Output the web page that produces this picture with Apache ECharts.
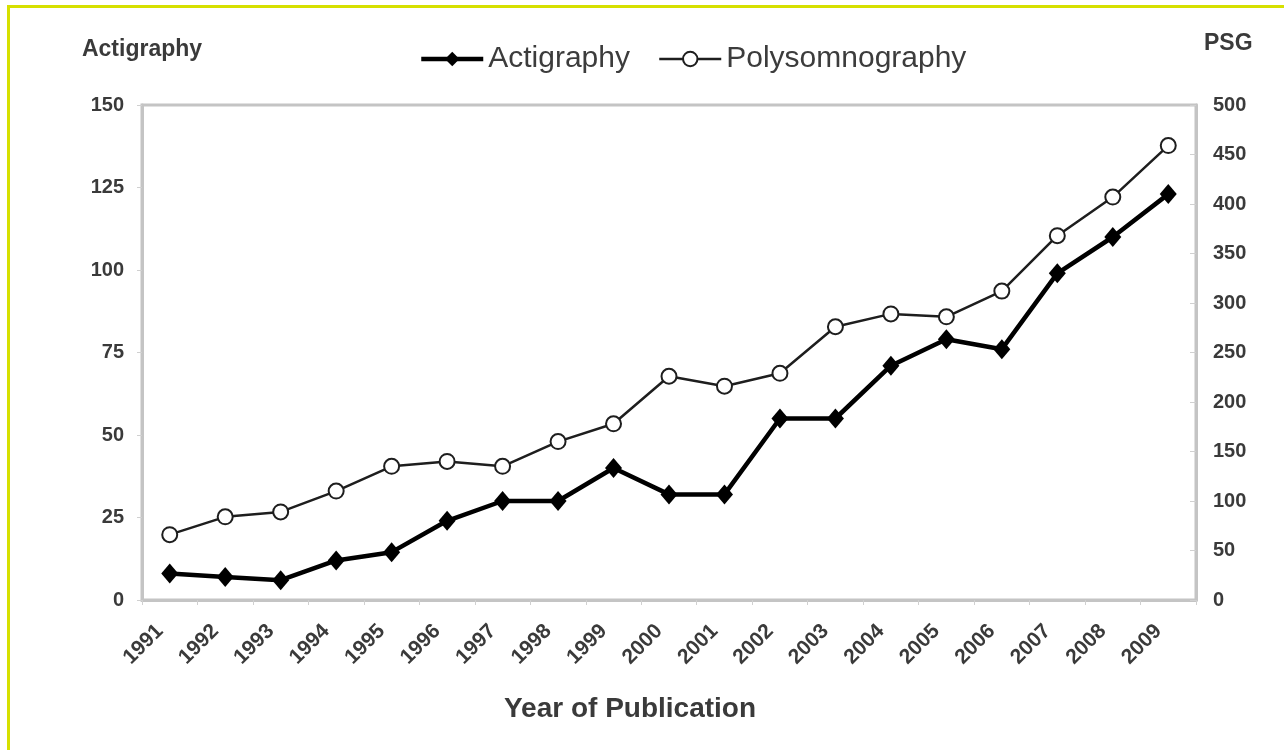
<!DOCTYPE html>
<html>
<head>
<meta charset="utf-8">
<script src="https://cdn.jsdelivr.net/npm/echarts@6/dist/echarts.min.js"></script>
<style>
html,body{margin:0;padding:0;background:#fff;}
#frame{position:absolute;left:7px;top:5px;width:1277px;height:745px;border-top:3px solid #d6e000;border-left:3px solid #d6e000;box-sizing:border-box;}
#chart{position:absolute;left:0;top:0;width:1284px;height:750px;}
</style>
</head>
<body>
<div id="frame"></div>
<div id="chart"></div>
<script>
const years = ['1991','1992','1993','1994','1995','1996','1997','1998','1999','2000','2001','2002','2003','2004','2005','2006','2007','2008','2009'];
const actigraphy = [8, 7, 6, 12, 14.5, 24, 30, 30, 40, 32, 32, 55, 55, 71, 79, 76, 99, 110, 123];
const polysomnography = [66, 84, 89, 110, 135, 140, 135, 160, 178, 226, 216, 229, 276, 289, 286, 312, 368, 407, 459];
const leftTicks = [0, 25, 50, 75, 100, 125, 150];
const rightTicks = [0, 50, 100, 150, 200, 250, 300, 350, 400, 450, 500];

const chart = echarts.init(document.getElementById('chart'), null, {renderer: 'canvas'});
const lblColor = '#3a3a3a';
const font = 'Liberation Sans, Arial, sans-serif';
chart.setOption({
  backgroundColor: 'transparent',
  animation: false,
  textStyle: {fontFamily: font},
  legend: {
    left: 414, top: 39,
    itemWidth: 62, itemHeight: 18, itemGap: 28,
    textStyle: {fontSize: 30, color: '#3c3c3c', fontFamily: font},
    data: [
      {name: 'Actigraphy', lineStyle: {width: 4.5, color: '#000'}},
      {name: 'Polysomnography', lineStyle: {width: 2.5, color: '#1e1e1e'}}
    ]
  },
  grid: {left: 142, right: 88, top: 105, bottom: 150, show: true, borderColor: '#c4c4c4', borderWidth: 3},
  xAxis: {
    type: 'category', data: years, boundaryGap: true,
    name: 'Year of Publication', nameLocation: 'middle', nameGap: 95,
    nameTextStyle: {fontSize: 28, fontWeight: 'bold', color: lblColor, padding: [0, 78, 0, 0]},
    axisLine: {lineStyle: {color: '#c4c4c4', width: 3}},
    axisTick: {show: true, length: 5, lineStyle: {color: '#d0d0d0', width: 1}},
    axisLabel: {rotate: 45, fontSize: 21, fontWeight: 'bold', color: lblColor, margin: 18, padding: [0, 14, 0, 0], interval: 0}
  },
  yAxis: [
    {
      type: 'value', min: leftTicks[0], max: leftTicks[leftTicks.length - 1], interval: 25,
      name: 'Actigraphy', nameLocation: 'end', nameGap: 44,
      nameTextStyle: {fontSize: 23, fontWeight: 'bold', color: lblColor, align: 'center'},
      axisLine: {show: true, lineStyle: {color: '#c4c4c4', width: 3}},
      axisTick: {show: true, length: 5, lineStyle: {color: '#d0d0d0'}},
      splitLine: {show: false},
      axisLabel: {fontSize: 20, fontWeight: 'bold', color: lblColor, margin: 18}
    },
    {
      type: 'value', min: rightTicks[0], max: rightTicks[rightTicks.length - 1], interval: 50,
      name: 'PSG', nameLocation: 'end', nameGap: 50,
      nameTextStyle: {fontSize: 23, fontWeight: 'bold', color: lblColor, align: 'left', padding: [0, 0, 0, 8]},
      axisLine: {show: true, lineStyle: {color: '#c4c4c4', width: 3}},
      axisTick: {show: true, inside: true, length: 6, lineStyle: {color: '#d0d0d0'}},
      splitLine: {show: false},
      axisLabel: {fontSize: 20, fontWeight: 'bold', color: lblColor, margin: 17}
    }
  ],
  series: [
    {
      name: 'Polysomnography', type: 'line', yAxisIndex: 1, data: polysomnography,
      symbol: 'circle', symbolSize: 15,
      lineStyle: {color: '#1e1e1e', width: 2.5},
      itemStyle: {color: '#ffffff', borderColor: '#1e1e1e', borderWidth: 2},
      z: 2
    },
    {
      name: 'Actigraphy', type: 'line', yAxisIndex: 0, data: actigraphy,
      symbol: 'diamond', symbolSize: [17, 20],
      lineStyle: {color: '#000000', width: 4.5},
      itemStyle: {color: '#000000', borderColor: '#000000', borderWidth: 0},
      z: 3
    }
  ]
});
</script>
</body>
</html>
